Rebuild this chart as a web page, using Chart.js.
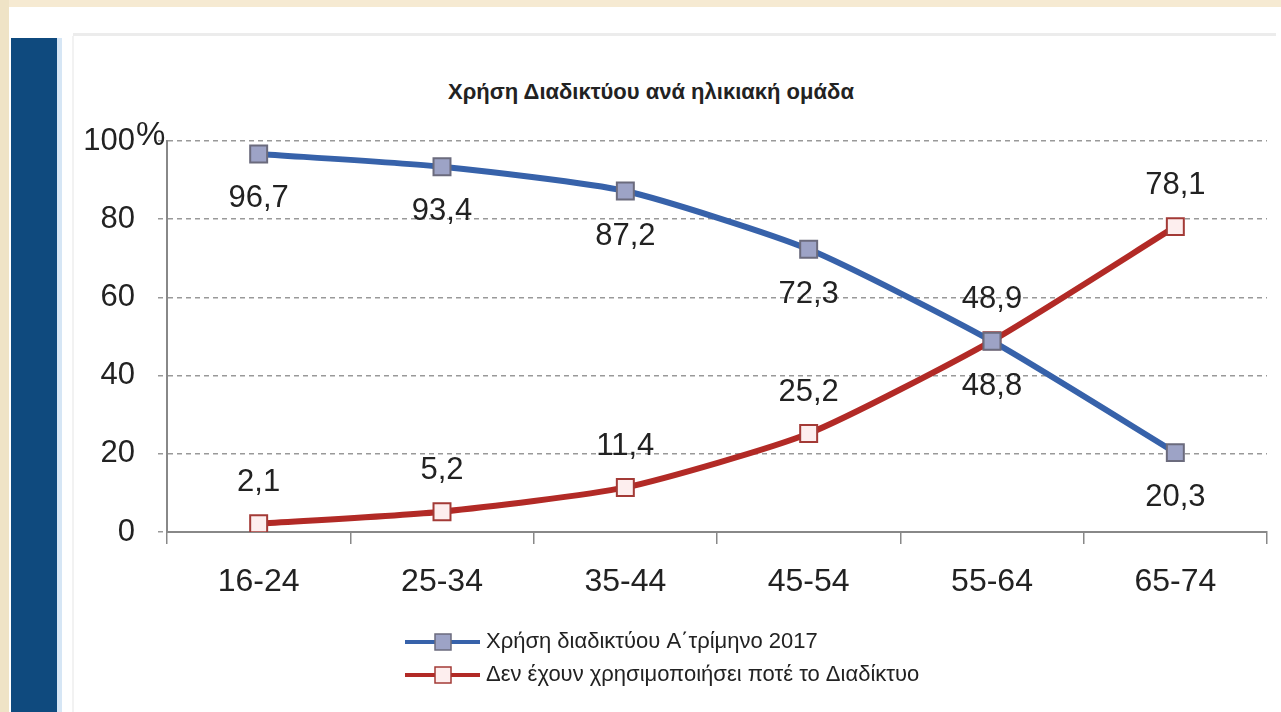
<!DOCTYPE html>
<html>
<head>
<meta charset="utf-8">
<script src="https://cdn.jsdelivr.net/npm/chart.js@4/dist/chart.umd.min.js"></script>
<style>
  body { margin: 0; background: #fff; width: 1281px; height: 712px; overflow: hidden; position: relative; font-family: "Liberation Sans", Arial, sans-serif; }
  .cream-top { position: absolute; left: 0; top: 0; width: 1281px; height: 7px; background: #f6ead2; }
  .cream-left { position: absolute; left: 0; top: 0; width: 9px; height: 712px; background: #efe3c6; }
  .navy { position: absolute; left: 11px; top: 38px; width: 46px; height: 674px; background: #0f4a7e; border-right: 5px solid #d6e6f5; }
  .card-top { position: absolute; left: 73px; top: 33px; width: 1203px; height: 3px; background: #ececec; }
  .card-left { position: absolute; left: 72px; top: 36px; width: 2px; height: 676px; background: #f2f2f2; }
  .title { position: absolute; left: 0; width: 1302px; top: 79px; text-align: center; font-weight: bold; font-size: 22px; color: #222; }
  #wrap { position: absolute; left: 0; top: 0; width: 1281px; height: 712px; }
</style>
</head>
<body>
<div class="cream-top"></div>
<div class="cream-left"></div>
<div class="navy"></div>
<div class="card-top"></div>
<div class="card-left"></div>
<div class="title">Χρήση Διαδικτύου ανά ηλικιακή ομάδα</div>
<div id="wrap"><canvas id="chart" width="1281" height="712"></canvas></div>
<script>
// age groups
var ageGroups = ["16-24", "25-34", "35-44", "45-54", "55-64", "65-74"];
// internet use, Q1 2017 (%)
var usersValues = [96.7, 93.4, 87.2, 72.3, 48.8, 20.3];
// never used the internet (%)
var neverValues = [2.1, 5.2, 11.4, 25.2, 48.9, 78.1];
var seriesNames = ["Χρήση διαδικτύου Α΄τρίμηνο 2017", "Δεν έχουν χρησιμοποιήσει ποτέ το Διαδίκτυο"];
var yTicks = [0, 20, 40, 60, 80, 100];

var fontFamily = '"Liberation Sans", Arial, sans-serif';

// value labels under/over each point, plus the % sign on top tick
var pointLabels = {
    id: 'pointLabels',
    afterDatasetsDraw: function (chart) {
        var ctx = chart.ctx;
        var offsets = [45, -41];
        ctx.save();
        ctx.font = '31px ' + fontFamily;
        ctx.fillStyle = '#222';
        ctx.textAlign = 'center';
        ctx.textBaseline = 'middle';
        chart.data.datasets.forEach(function (ds, i) {
            var meta = chart.getDatasetMeta(i);
            meta.data.forEach(function (pt, j) {
                var txt = ds.data[j].toFixed(1).replace('.', ',');
                ctx.fillText(txt, pt.x, pt.y + offsets[i]);
            });
        });
        // the % after 100
        var yScale = chart.scales.y;
        ctx.font = '33px ' + fontFamily;
        ctx.textAlign = 'left';
        ctx.fillText('%', 136, yScale.getPixelForValue(100) - 5);
        ctx.restore();
    }
};

// two-row legend under the axis
var rowLegend = {
    id: 'rowLegend',
    afterDraw: function (chart) {
        var ctx = chart.ctx;
        var rows = [642, 675];
        ctx.save();
        chart.data.datasets.forEach(function (ds, i) {
            var y = rows[i];
            ctx.strokeStyle = ds.borderColor;
            ctx.lineWidth = 4;
            ctx.beginPath();
            ctx.moveTo(405, y);
            ctx.lineTo(480, y);
            ctx.stroke();
            ctx.fillStyle = ds.pointBackgroundColor;
            ctx.strokeStyle = ds.pointBorderColor;
            ctx.lineWidth = 1.5;
            ctx.fillRect(435, y - 8, 16, 16);
            ctx.strokeRect(435, y - 8, 16, 16);
            ctx.fillStyle = '#222';
            ctx.font = '22px ' + fontFamily;
            ctx.textAlign = 'left';
            ctx.textBaseline = 'middle';
            ctx.fillText(ds.label, 486, y);
        });
        ctx.restore();
    }
};

var ctx = document.getElementById('chart').getContext('2d');
var chart = new Chart(ctx, {
    type: 'line',
    data: {
        labels: ageGroups,
        datasets: [
            {
                label: seriesNames[0],
                data: usersValues,
                borderColor: '#3762aa',
                borderWidth: 6,
                pointStyle: 'rect',
                pointRadius: 12,
                pointBackgroundColor: '#9da3c6',
                pointBorderColor: '#6b6b7d',
                pointBorderWidth: 2,
                tension: 0.2
            },
            {
                label: seriesNames[1],
                data: neverValues,
                borderColor: '#b22a26',
                borderWidth: 6,
                pointStyle: 'rect',
                pointRadius: 12,
                pointBackgroundColor: '#fdeeee',
                pointBorderColor: '#a33a36',
                pointBorderWidth: 2,
                tension: 0.2
            }
        ]
    },
    options: {
        responsive: false,
        animation: false,
        layout: { padding: { left: 80, right: 13, top: 141, bottom: 100 } },
        plugins: {
            legend: { display: false },
            title: { display: false },
            tooltip: { enabled: false }
        },
        scales: {
            x: {
                offset: true,
                afterFit: function (scale) { scale.height = 80; },
                grid: {
                    offset: true,
                    drawOnChartArea: false,
                    drawTicks: true,
                    tickLength: 12,
                    color: '#888',
                    lineWidth: 1.5
                },
                border: { display: true, color: '#888', width: 2 },
                ticks: {
                    color: '#222',
                    padding: 19,
                    font: { family: fontFamily, size: 32 }
                }
            },
            y: {
                min: 0,
                max: 100,
                afterFit: function (scale) { scale.width = 87; },
                afterBuildTicks: function (scale) {
                    scale.ticks = yTicks.map(function (v) { return { value: v }; });
                },
                grid: {
                    color: '#999',
                    lineWidth: 1.5,
                    tickLength: 9,
                    tickColor: '#999',
                    tickBorderDash: [5, 4]
                },
                // in v4 border.dash dashes the grid lines; the axis line itself stays solid
                border: { display: true, color: '#888', width: 2, dash: [5, 4] },
                ticks: {
                    color: '#222',
                    padding: 23,
                    font: { family: fontFamily, size: 31 }
                }
            }
        }
    },
    plugins: [pointLabels, rowLegend]
});
</script>
</body>
</html>
